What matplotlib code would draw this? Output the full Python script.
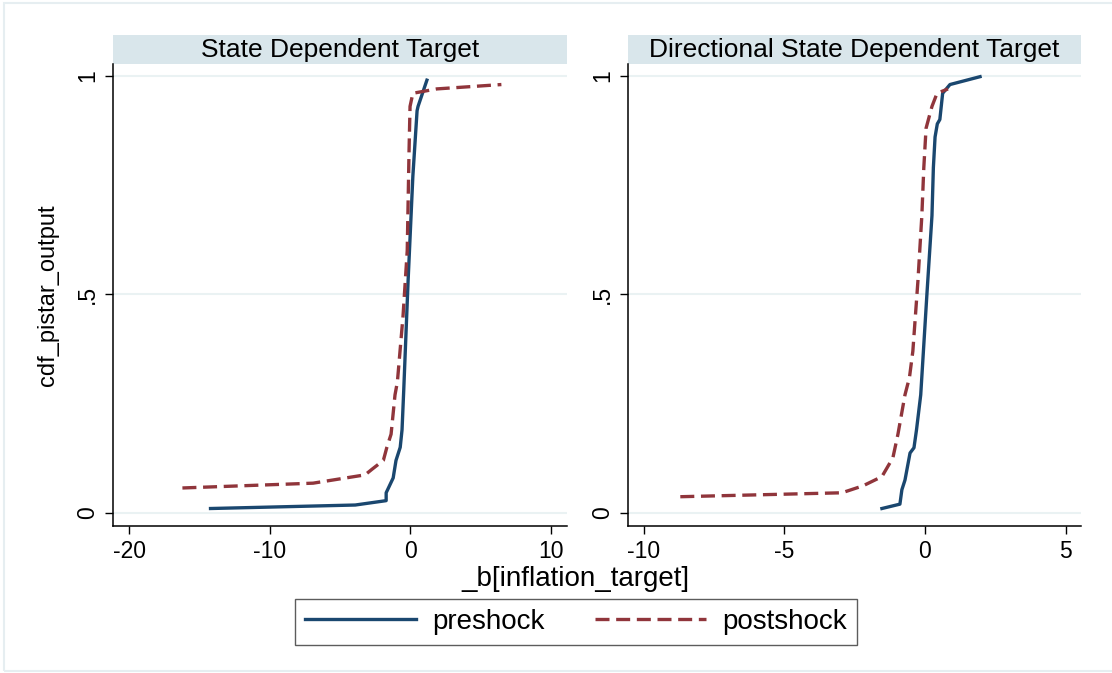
import matplotlib
matplotlib.use('Agg')
import matplotlib.pyplot as plt
from matplotlib.patches import Rectangle

plt.rcParams['font.family'] = ['Liberation Sans', 'DejaVu Sans']

# Panel titles and tick labels
panels = ['State Dependent Target', 'Directional State Dependent Target']
xticks_left = [-20, -10, 0, 10]
xticks_right = [-10, -5, 0, 5]
yticks = [0, 0.5, 1]
ytick_labels = ['0', '.5', '1']

# Left panel: State Dependent Target
sd_pre_x = [-14.2, -3.9, -1.7, -1.7, -1.2, -1.0, -0.7, -0.57, -0.45, -0.14, 0.2, 0.5, 0.57, 1.2]
sd_pre_y = [0.01, 0.018, 0.028, 0.046, 0.08, 0.12, 0.15, 0.19, 0.28, 0.53, 0.77, 0.92, 0.93, 0.99]
sd_post_x = [-16.2, -6.9, -3.2, -2.7, -1.9, -1.65, -1.35, -1.07, -0.9, -0.5, -0.2, -0.07, 0.0, 0.2, 1.9, 6.5]
sd_post_y = [0.057, 0.068, 0.087, 0.10, 0.12, 0.15, 0.18, 0.27, 0.30, 0.45, 0.60, 0.83, 0.93, 0.96, 0.97, 0.98]

# Right panel: Directional State Dependent Target
dsd_pre_x = [-1.53, -0.89, -0.82, -0.71, -0.53, -0.39, -0.3, -0.15, 0.07, 0.25, 0.3, 0.36, 0.44, 0.53, 0.63, 0.89, 1.96]
dsd_pre_y = [0.01, 0.02, 0.053, 0.075, 0.137, 0.149, 0.19, 0.27, 0.50, 0.68, 0.79, 0.86, 0.89, 0.90, 0.96, 0.98, 0.998]
dsd_post_x = [-8.7, -2.95, -2.2, -1.53, -1.14, -0.96, -0.71, -0.55, -0.43, -0.25, -0.11, -0.04, 0.04, 0.25, 0.43, 0.82]
dsd_post_y = [0.037, 0.046, 0.062, 0.083, 0.126, 0.18, 0.27, 0.31, 0.37, 0.53, 0.68, 0.79, 0.88, 0.93, 0.96, 0.97]

navy = '#1a476f'
maroon = '#90353b'
strip_col = '#d9e6eb'
grid_col = '#eaf2f3'

fig = plt.figure(figsize=(11.12, 6.73), dpi=100)
fig.patches.append(Rectangle((4 / 1112, 2 / 673), 1.2, 668 / 673, transform=fig.transFigure,
                             fill=False, edgecolor='#e6eef1', linewidth=1.5))

ax1 = fig.add_axes([113 / 1112, 1 - 526 / 673, 454 / 1112, 462 / 673])
ax2 = fig.add_axes([628 / 1112, 1 - 526 / 673, 453 / 1112, 462 / 673])

data = [
    (ax1, sd_pre_x, sd_pre_y, sd_post_x, sd_post_y, xticks_left, (-21.14, 11.17)),
    (ax2, dsd_pre_x, dsd_pre_y, dsd_post_x, dsd_post_y, xticks_right, (-10.56, 5.55)),
]

for i, (ax, px, py, qx, qy, xt, xl) in enumerate(data):
    for y in yticks:
        ax.axhline(y, color=grid_col, linewidth=1.5, zorder=0)
    l1, = ax.plot(px, py, color=navy, linewidth=2.4, label='preshock')
    l2, = ax.plot(qx, qy, color=maroon, linewidth=2.4, dashes=(4.2, 2.0), label='postshock')
    ax.set_xlim(*xl)
    ax.set_ylim(-0.030, 1.027)
    ax.set_xticks(xt)
    ax.set_xticklabels([str(v) for v in xt])
    ax.set_yticks(yticks)
    ax.set_yticklabels(ytick_labels, rotation=90, va='center')
    ax.tick_params(direction='out', length=6, width=1, labelsize=16.5, pad=4)
    for s in ['top', 'right']:
        ax.spines[s].set_visible(False)
    for s in ['left', 'bottom']:
        ax.spines[s].set_linewidth(1.1)
    # strip title
    ax.add_patch(Rectangle((0, 1), 1, 29 / 462, transform=ax.transAxes,
                           facecolor=strip_col, edgecolor='none', clip_on=False))
    ax.text(0.5, 1 + 14.5 / 462, panels[i], transform=ax.transAxes,
            ha='center', va='center', fontsize=19)

ax1.set_ylabel('cdf_pistar_output', fontsize=17, labelpad=12)
fig.text(575 / 1112, 1 - 579 / 673, '_b[inflation_target]', ha='center', va='center', fontsize=20)

leg = fig.legend([l1, l2], ['preshock', 'postshock'], loc='center',
                 bbox_to_anchor=(576 / 1112, 1 - 622 / 673), ncol=2, fontsize=20,
                 frameon=True, fancybox=False, edgecolor='#333333', handlelength=4.0,
                 columnspacing=1.8, handletextpad=0.6, borderpad=0.36)
leg.get_frame().set_linewidth(1.0)

plt.savefig('out.png', dpi=100)
